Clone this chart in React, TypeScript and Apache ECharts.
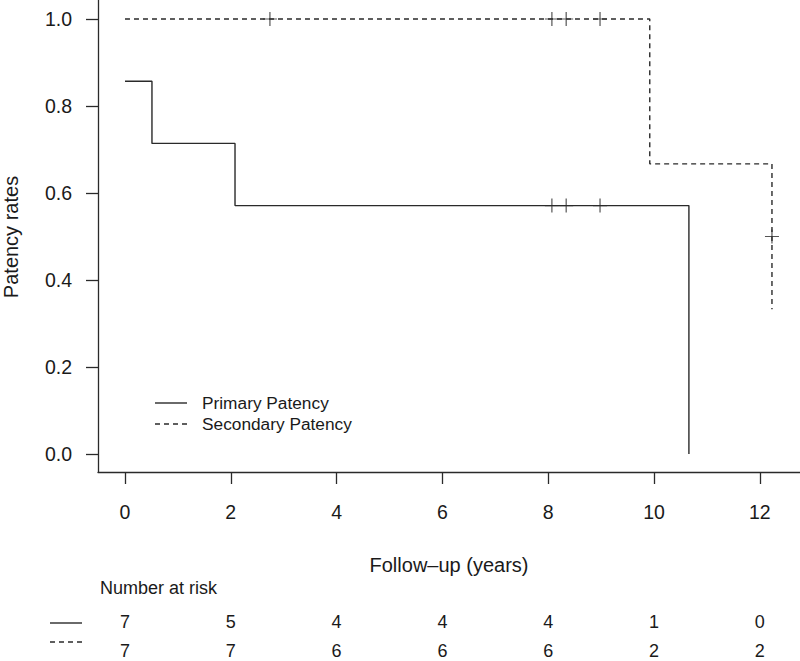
import React, { useEffect, useRef } from "react";
import * as echarts from "echarts";

// Kaplan-Meier step curves (time in years, patency rate)
const primaryTimes = [0, 0.51, 2.08, 10.66];
const primarySurv = [0.857, 0.714, 0.571, 0];
const secondaryTimes = [0, 9.92, 12.23];
const secondarySurv = [1.0, 0.667, 0.333];

// Censoring marks
const primaryCensorTimes = [8.07, 8.34, 8.98];
const primaryCensorSurv = [0.571, 0.571, 0.571];
const secondaryCensorTimes = [2.74, 8.07, 8.34, 8.98, 12.23];
const secondaryCensorSurv = [1.0, 1.0, 1.0, 1.0, 0.5];

// Axes
const xTicks = [0, 2, 4, 6, 8, 10, 12];
const yTicks = [0, 0.2, 0.4, 0.6, 0.8, 1.0];

// Number at risk table
const riskTimes = [0, 2, 4, 6, 8, 10, 12];
const primaryAtRisk = [7, 5, 4, 4, 4, 1, 0];
const secondaryAtRisk = [7, 7, 6, 6, 6, 2, 2];

const seriesNames = ["Primary Patency", "Secondary Patency"];
const xTitle = "Follow\u2013up (years)";
const yTitle = "Patency rates";
const riskTitle = "Number at risk";

const FONT = "'Liberation Sans', Arial, Helvetica, sans-serif";
const INK = "#1a1a1a";
const LINE = "#2a2a2a";
const DASH = [5, 4];
const PLUS = "path://M6.4,0H7.6V6.4H14V7.6H7.6V14H6.4V7.6H0V6.4H6.4Z";

export default function App() {
  const ref = useRef<HTMLDivElement>(null);

  useEffect(() => {
    if (!ref.current) return;
    const chart = echarts.init(ref.current, null, { renderer: "svg" });

    const toPairs = (xs: number[], ys: number[]) => xs.map((x, i) => [x, ys[i]]);

    chart.setOption({
      animation: false,
      grid: { left: 98, top: 0, width: 702, height: 472, containLabel: false },
      xAxis: {
        type: "value",
        min: -0.51,
        max: 12.76,
        axisLine: { show: true, onZero: false, lineStyle: { color: LINE, width: 1.3 } },
        axisTick: { show: true, length: 12, customValues: xTicks, lineStyle: { color: LINE, width: 1.3 } },
        axisLabel: {
          customValues: xTicks,
          margin: 30,
          fontSize: 19.5,
          fontFamily: FONT,
          color: INK,
          formatter: (v: number) => String(Math.round(v)),
        },
        splitLine: { show: false },
      },
      yAxis: {
        type: "value",
        min: -0.0414,
        max: 1.0437,
        axisLine: { show: true, onZero: false, lineStyle: { color: LINE, width: 1.3 } },
        axisTick: { show: true, length: 12, customValues: yTicks, lineStyle: { color: LINE, width: 1.3 } },
        axisLabel: {
          customValues: yTicks,
          margin: 26,
          fontSize: 19.5,
          fontFamily: FONT,
          color: INK,
          formatter: (v: number) => v.toFixed(1),
        },
        splitLine: { show: false },
      },
      series: [
        {
          name: seriesNames[0],
          type: "line",
          step: "end",
          showSymbol: false,
          data: toPairs(primaryTimes, primarySurv),
          lineStyle: { color: LINE, width: 1.4, type: "solid" },
        },
        {
          name: seriesNames[1],
          type: "line",
          step: "end",
          showSymbol: false,
          data: toPairs(secondaryTimes, secondarySurv),
          lineStyle: { color: LINE, width: 1.4, type: DASH },
        },
        {
          name: seriesNames[0] + " censored",
          type: "scatter",
          symbol: PLUS,
          symbolSize: 14,
          data: toPairs(primaryCensorTimes, primaryCensorSurv),
          itemStyle: { color: LINE },
        },
        {
          name: seriesNames[1] + " censored",
          type: "scatter",
          symbol: PLUS,
          symbolSize: 14,
          data: toPairs(secondaryCensorTimes, secondaryCensorSurv),
          itemStyle: { color: LINE },
        },
      ],
    });

    const px = (t: number) => chart.convertToPixel({ xAxisIndex: 0 }, t) as number;
    const graphics: any[] = [];

    // axis titles
    graphics.push({
      type: "text",
      x: 11,
      y: 237,
      rotation: Math.PI / 2,
      style: { text: yTitle, fontSize: 20, fontFamily: FONT, fill: INK, align: "center", verticalAlign: "middle" },
    });
    graphics.push({
      type: "text",
      x: 449,
      y: 565,
      style: { text: xTitle, fontSize: 20, fontFamily: FONT, fill: INK, align: "center", verticalAlign: "middle" },
    });

    // legend
    const legendRows = [403, 424];
    seriesNames.forEach((name, i) => {
      graphics.push({
        type: "line",
        shape: { x1: 155, y1: legendRows[i], x2: 187, y2: legendRows[i] },
        style: { stroke: LINE, lineWidth: 1.4, lineDash: i === 0 ? null : DASH },
      });
      graphics.push({
        type: "text",
        x: 202,
        y: legendRows[i],
        style: { text: name, fontSize: 17.3, fontFamily: FONT, fill: INK, align: "left", verticalAlign: "middle" },
      });
    });

    // number at risk
    graphics.push({
      type: "text",
      x: 100,
      y: 588,
      style: { text: riskTitle, fontSize: 18, fontFamily: FONT, fill: INK, align: "left", verticalAlign: "middle" },
    });
    const riskRows = [622, 651];
    const riskLineY = [623, 642];
    [primaryAtRisk, secondaryAtRisk].forEach((row, r) => {
      graphics.push({
        type: "line",
        shape: { x1: 50, y1: riskLineY[r], x2: 82, y2: riskLineY[r] },
        style: { stroke: LINE, lineWidth: 1.4, lineDash: r === 0 ? null : DASH },
      });
      row.forEach((n, i) => {
        graphics.push({
          type: "text",
          x: px(riskTimes[i]),
          y: riskRows[r],
          style: { text: String(n), fontSize: 18, fontFamily: FONT, fill: INK, align: "center", verticalAlign: "middle" },
        });
      });
    });

    chart.setOption({ graphic: graphics });

    return () => chart.dispose();
  }, []);

  return (
    <div
      ref={ref}
      style={{ position: "absolute", left: 0, top: 0, width: 800, height: 661, background: "#fff" }}
    />
  );
}
